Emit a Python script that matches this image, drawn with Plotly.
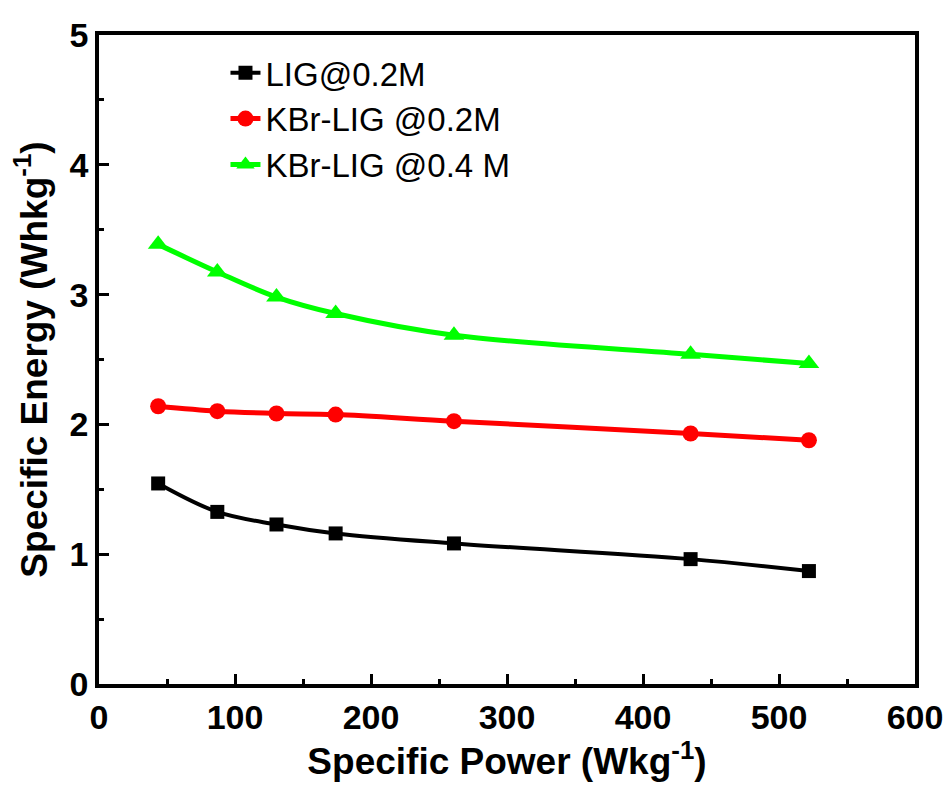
import plotly.graph_objects as go

power = [43.5, 87, 130.5, 174, 261, 435, 522]
lig_02 = [1.545, 1.326, 1.229, 1.160, 1.083, 0.962, 0.870]
kbr_02 = [2.140, 2.102, 2.084, 2.076, 2.025, 1.930, 1.878]
kbr_04 = [3.387, 3.174, 2.981, 2.854, 2.687, 2.540, 2.469]

names = ["LIG@0.2M", "KBr-LIG @0.2M", "KBr-LIG @0.4 M"]
colors = ["#000000", "#FF0000", "#00FF00"]
symbols = ["square", "circle", "triangle-up"]
sizes = [14, 16, 18]
widths = [4, 5, 5]

fig = go.Figure()
for ys, n, c, s, sz, w in zip([lig_02, kbr_02, kbr_04], names, colors, symbols, sizes, widths):
    fig.add_trace(go.Scatter(
        x=power, y=ys, name=n, mode="lines+markers",
        line=dict(color=c, width=w, shape="spline", smoothing=1),
        marker=dict(color=c, symbol=s, size=sz, line=dict(width=0)),
    ))

font_b = "Liberation Sans, Arial, sans-serif"
axis_common = dict(
    showline=True, linecolor="black", linewidth=3.5, mirror=True,
    ticks="inside", ticklen=10, tickwidth=3, tickcolor="black",
    showgrid=False, zeroline=False, automargin=False,
    tickfont=dict(family=font_b, size=34, color="black", weight="bold"),
)

fig.update_layout(
    width=950, height=787,
    margin=dict(l=99, r=34.5, t=34.5, b=103),
    paper_bgcolor="white", plot_bgcolor="white",
    xaxis=dict(range=[0, 600], tickvals=[0, 100, 200, 300, 400, 500, 600],
               minor=dict(ticks="inside", ticklen=5, tickwidth=3, tickcolor="black", dtick=50, tick0=0),
               title=dict(text="Specific Power (Wkg<sup>-1</sup>)", standoff=6,
                          font=dict(family=font_b, size=37, color="black", weight="bold")),
               **axis_common),
    yaxis=dict(range=[0, 5], tickvals=[0, 1, 2, 3, 4, 5],
               minor=dict(ticks="inside", ticklen=5, tickwidth=3, tickcolor="black", dtick=0.5, tick0=0),
               title=dict(text="Specific Energy (Whkg<sup>-1</sup>)", standoff=12,
                          font=dict(family=font_b, size=37, color="black", weight="bold")),
               **axis_common),
    legend=dict(x=0.155, y=0.985, xanchor="left", yanchor="top",
                bgcolor="rgba(0,0,0,0)", borderwidth=0,
                font=dict(family=font_b, size=33, color="black"),
                itemwidth=30, tracegroupgap=0),
    showlegend=True,
)

fig.write_html("out.html")
